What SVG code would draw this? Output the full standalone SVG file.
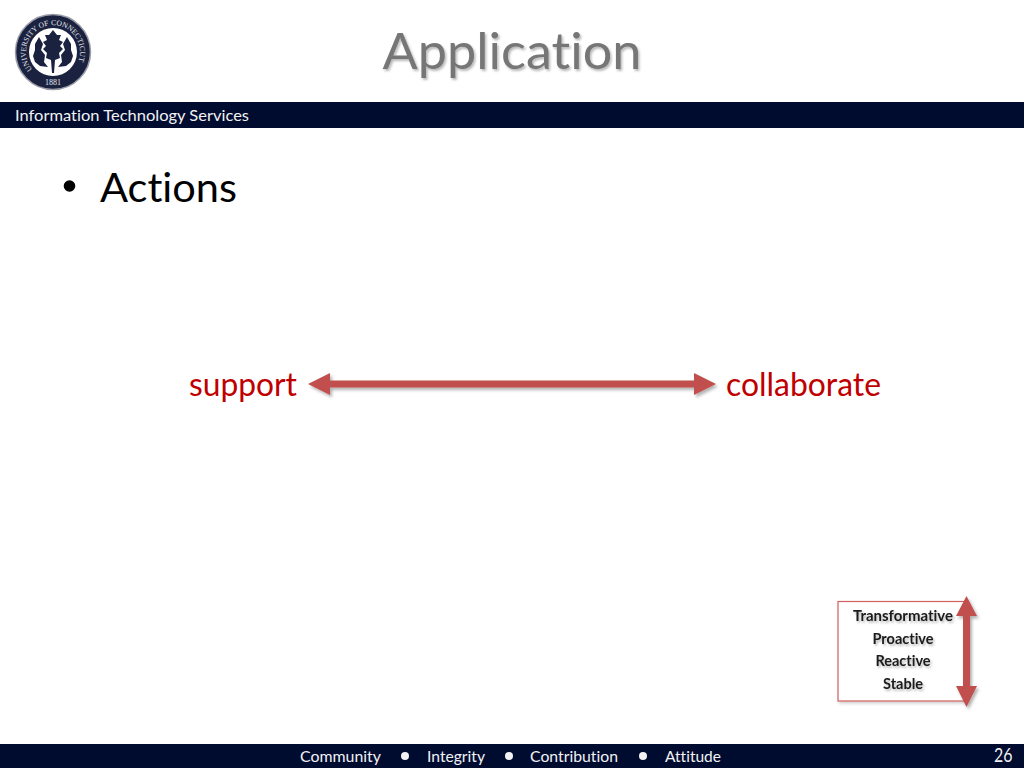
<svg xmlns="http://www.w3.org/2000/svg" width="1024" height="768" viewBox="0 0 1024 768">
<style>
text{font-family:"Lato","Noto Sans","Liberation Sans",sans-serif;font-variant-ligatures:none}
.bar{fill:#000b30}
.w{fill:#f2f2f2;font-size:16px}
.red{fill:#c00000;font-size:32px}
.small{fill:#1a1a1a;font-size:14.5px;font-weight:700;text-anchor:middle;filter:url(#ts)}
.seal{font-family:"Liberation Serif",serif;fill:#e8e8ee}
.dot{fill:#f2f2f2}
.leaf{fill:#1a2240}
</style>
<defs>
<filter id="ts" x="-20%" y="-30%" width="140%" height="170%"><feDropShadow dx="1.500" dy="2" stdDeviation="1.300" flood-color="#000" flood-opacity=".28"/></filter>
<filter id="as" x="-20%" y="-40%" width="140%" height="200%"><feDropShadow dx="2" dy="2.500" stdDeviation="1.800" flood-color="#000" flood-opacity=".3"/></filter>
<filter id="rs" x="-5%" y="-5%" width="112%" height="112%"><feDropShadow dx="1.500" dy="2" stdDeviation="1.500" flood-color="#000" flood-opacity=".18"/></filter>
<path id="arcSeal" d="M32.300 69.400 A27 27 0 1 1 73.700 69.400"/>
</defs>
<rect width="1024" height="768" fill="#fff"/>
<g id="header">
<text x="512" y="69" text-anchor="middle" font-size="50" fill="#767676" filter="url(#ts)" textLength="259" lengthAdjust="spacingAndGlyphs">Application</text>
<rect class="bar" y="102" width="1024" height="26"/>
<text class="w" x="15" y="121" textLength="234" lengthAdjust="spacingAndGlyphs">Information Technology Services</text>
</g>
<g id="logo">
<circle cx="53" cy="52" r="37.500" fill="#1a2240" stroke="#9a9ca8" stroke-width="1.500"/>
<circle cx="53" cy="52" r="24" fill="#fff"/>
<text class="seal" font-size="7.600"><textPath href="#arcSeal">UNIVERSITY OF CONNECTICUT</textPath></text>
<text class="seal" x="53" y="85" font-size="8" text-anchor="middle">1881</text>
<path class="leaf" d="M53 30 L57 35 L61 35 L59 40 L63 42 L60 46 L63 49 L59 53 L60 58 L55 60 L54 73 L52 73 L51 60 L46 58 L47 53 L43 49 L46 46 L43 42 L47 40 L45 35 L49 35Z"/>
<path class="leaf" d="M39 37 L43 44 L41 50 L45 55 L44 62 L48 67 L40 66 L35 62 L33 56 L35 50 L35 44Z"/>
<path class="leaf" d="M67 37 L63 44 L65 50 L61 55 L62 62 L58 67 L66 66 L71 62 L73 56 L71 50 L71 44Z"/>
</g>
<g id="bullet">
<circle cx="69.500" cy="186" r="5.800" fill="#000"/>
<text x="100" y="202" font-size="40" fill="#000" textLength="137" lengthAdjust="spacingAndGlyphs">Actions</text>
</g>
<g id="node-support"><text class="red" x="189" y="396" textLength="108" lengthAdjust="spacingAndGlyphs">support</text></g>
<g id="node-collaborate"><text class="red" x="726" y="396" textLength="155" lengthAdjust="spacingAndGlyphs">collaborate</text></g>
<g id="node-scale">
<rect x="838" y="601.500" width="128" height="99.500" fill="#fff" stroke="#d0605d" stroke-width="1.200" filter="url(#rs)"/>
<text class="small" x="903" y="621" textLength="100" lengthAdjust="spacingAndGlyphs">Transformative</text>
<text class="small" x="903" y="644">Proactive</text>
<text class="small" x="903" y="666">Reactive</text>
<text class="small" x="903" y="689">Stable</text>
</g>
<g id="connectors" fill="#c0504d" filter="url(#as)">
<path id="arrow-h" d="M308 384 L330 373 L330 380.500 L694 380.500 L694 373 L716 384 L694 395 L694 387.500 L330 387.500 L330 395Z"/>
<path id="arrow-v" d="M966.500 596 L977 616 L970 616 L970 686 L977 686 L966.500 707 L956 686 L963 686 L963 616 L956 616Z"/>
</g>
<g id="footer">
<rect class="bar" y="744" width="1024" height="24"/>
<text class="w" x="300" y="762" textLength="81" lengthAdjust="spacingAndGlyphs">Community</text>
<circle class="dot" cx="405" cy="756" r="4"/>
<text class="w" x="427" y="762" textLength="58" lengthAdjust="spacingAndGlyphs">Integrity</text>
<circle class="dot" cx="509" cy="756" r="4"/>
<text class="w" x="530" y="762" textLength="88" lengthAdjust="spacingAndGlyphs">Contribution</text>
<circle class="dot" cx="643" cy="756" r="4"/>
<text class="w" x="665" y="762" textLength="56" lengthAdjust="spacingAndGlyphs">Attitude</text>
<text class="w" x="994" y="761.500" style="font-size:19px" textLength="18.500" lengthAdjust="spacingAndGlyphs">26</text>
</g>
</svg>
